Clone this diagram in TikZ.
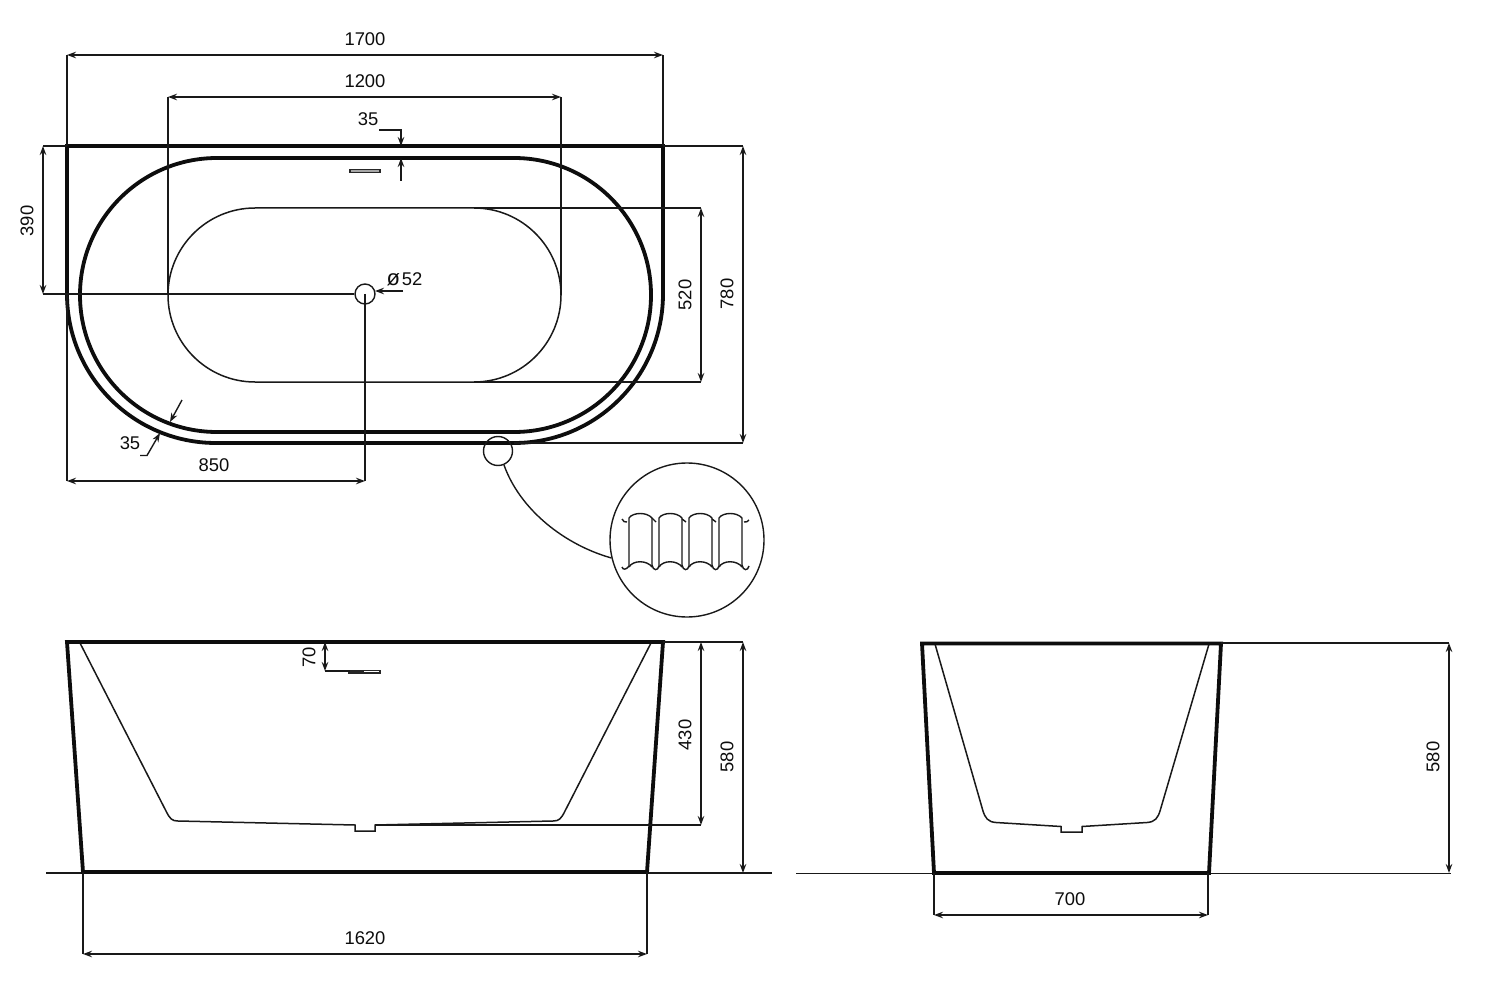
\documentclass[tikz,border=0pt]{standalone}
\usepackage{fontspec}
\setmainfont{Liberation Sans}
\usetikzlibrary{arrows.meta}
\tikzset{
  thin line/.style={line width=1.4pt,black!90},
  thick line/.style={line width=3.8pt,black!95,line join=miter},
  mid line/.style={line width=1.5pt,black!90},
  dim/.style={thin line,{Stealth[length=9pt,width=6.5pt]}-{Stealth[length=9pt,width=6.5pt]}},
  arr/.style={thin line,-{Stealth[length=9pt,width=6.5pt]}},
  lbl/.style={font=\fontsize{18.4}{18.4}\selectfont,inner sep=0pt,text=black!95},
  vlbl/.style={lbl,rotate=90},
  detail/.style={line width=1.4pt,black!90},
}
\begin{document}
\begin{tikzpicture}[x=1pt,y=-1pt]
\useasboundingbox (0,0) rectangle (1496,1000);
\fill[white] (0,0) rectangle (1496,1000);

% ---------- named points
\coordinate (wTL) at (67,146);   \coordinate (wTR) at (663,146);
\coordinate (d17L) at (67,55);   \coordinate (d17R) at (663,55);
\coordinate (d12L) at (168,97);  \coordinate (d12R) at (561,97);
\coordinate (bL) at (168,295);   \coordinate (bR) at (561,295);
\coordinate (d39T) at (43,146);  \coordinate (d39B) at (43,294);
\coordinate (d52T) at (701,208); \coordinate (d52B) at (701,382);
\coordinate (bTE) at (474,208);  \coordinate (bBE) at (474,382);
\coordinate (d78T) at (743,146); \coordinate (d78B) at (743,443);
\coordinate (oBE) at (514,443);
\coordinate (d85L) at (67,481);  \coordinate (d85R) at (365,481);
\coordinate (sideL) at (67,294);

% ---------- top view: bath outlines
\draw[thick line] (wTL) -- (wTR) -- (663,294) arc[start angle=0,end angle=90,radius=149]
  -- (216,443) arc[start angle=90,end angle=180,radius=149] -- cycle;
\draw[thick line] (217,158) -- (514,158) arc[start angle=-90,end angle=90,radius=137]
  -- (217,432) arc[start angle=90,end angle=270,radius=137] -- cycle;
\draw[mid line] (255,208) -- (474,208) arc[start angle=-90,end angle=90,radius=87]
  -- (255,382) arc[start angle=90,end angle=270,radius=87] -- cycle;
\node[draw,thin line,circle,minimum size=20pt,inner sep=0pt] (drain) at (365,294) {};
\draw[line width=1.3pt,black!85,fill=black!35] (350,169.5) rectangle (380,172.5);

% ---------- top view: dimensions
\draw[thin line] (wTL) -- (d17L);
\draw[thin line] (wTR) -- (d17R);
\draw[dim] (d17L) -- (d17R);
\node[lbl] (t1700) at (365,39) {1700};
\draw[thin line] (bL) -- (d12L);
\draw[thin line] (bR) -- (d12R);
\draw[dim] (d12L) -- (d12R);
\node[lbl] (t1200) at (365,81) {1200};

\node[lbl] (t35a) at (368,119) {35};
\coordinate (l35a) at (379,130); \coordinate (k35a) at (401,130);
\coordinate (tip35a) at (401,146); \coordinate (tail35b) at (401,181); \coordinate (tip35b) at (401,158);
\draw[arr] (l35a) -- (k35a) -- (tip35a);
\draw[arr] (tail35b) -- (tip35b);

\draw[thin line] (d39T) -- (wTL);
\draw[thin line] (d39B) -- (drain.west);
\draw[dim] (d39T) -- (d39B);
\node[vlbl] (t390) at (27,221) {390};

\node[lbl] (t52) at (404.5,279) {{\fontsize{22}{22}\selectfont ø}\kern2pt 52};
\coordinate (l52) at (403,291); \coordinate (h52) at (375,291);
\draw[arr] (l52) -- (h52);

\draw[thin line] (bTE) -- (d52T);
\draw[thin line] (bBE) -- (d52B);
\draw[dim] (d52T) -- (d52B);
\node[vlbl] (t520) at (685,295) {520};

\draw[thin line] (wTR) -- (d78T);
\draw[thin line] (oBE) -- (d78B);
\draw[dim] (d78T) -- (d78B);
\node[vlbl] (t780) at (727,294) {780};

\draw[thin line] (sideL) -- (d85L);
\draw[thin line] (drain.center) -- (d85R);
\draw[dim] (d85L) -- (d85R);
\node[lbl] (t850) at (214,465) {850};

\coordinate (t35c) at (182,400); \coordinate (h35c) at (170,422);
\draw[arr] (t35c) -- (h35c);
\coordinate (l35d) at (140,455.5); \coordinate (k35d) at (147,455.5); \coordinate (h35d) at (160,433);
\draw[arr] (l35d) -- (k35d) -- (h35d);
\node[lbl] (t35b) at (130,443) {35};

% ---------- detail callout
\node[draw,detail,circle,minimum size=29pt,inner sep=0pt] (small) at (498,451) {};
\node[draw,detail,circle,minimum size=154pt,inner sep=0pt] (big) at (687,540) {};
\draw[detail] (504,465) .. controls (520,510) and (565,545) .. (611.5,558);
\foreach \x in {0,30,60,90}{
  \draw[detail] (629+\x,566) -- (629+\x,518) .. controls (633+\x,512) and (647+\x,512) .. (652+\x,518) -- (652+\x,567);
  \draw[detail] (629+\x,567) .. controls (633+\x,560) and (647+\x,560) .. (652+\x,567);
}
\foreach \x in {0,30,60,90}{
  \draw[detail] (652+\x,565) .. controls (653+\x,571) and (658+\x,571) .. (659+\x,566);
}
\draw[detail] (652,518) -- (656,522); \draw[detail] (682,519) -- (686,522); \draw[detail] (712,519) -- (716,522);
\draw[detail] (622,519) .. controls (623,522) and (625,522) .. (627,522);
\draw[detail] (744,522) .. controls (746,522) and (748,522) .. (749,520);
\draw[detail] (622,567) .. controls (623,570) and (626,570) .. (629,566);

% ---------- front view
\draw[mid line] (80,643) -- (166,811) .. controls (170,819) and (172,821) .. (178,821)
  -- (355,825) -- (355,831) -- (375,831) -- (375,825) -- (553,821)
  .. controls (559,821) and (561,819) .. (565,811) -- (651,643);
\draw[thin line] (46,873) -- (772,873);
\draw[thick line] (67,642) -- (663,642) -- (647,872) -- (83,872) -- cycle;
\draw[line width=1.3pt,black!85] (349,670.5) rectangle (380,673);
\fill[black!85] (349,669.5) rectangle (364,674);

\coordinate (fT) at (325,642); \coordinate (fS) at (325,671); \coordinate (fSe) at (350,671);
\draw[dim] (fT) -- (fS);
\draw[thin line] (fS) -- (fSe);
\node[vlbl] (t70) at (309,657) {70};

\coordinate (fTR) at (663,642);
\coordinate (d43T) at (701,642); \coordinate (d43B) at (701,825); \coordinate (fBE) at (375,825);
\coordinate (d58T) at (743,642); \coordinate (d58B) at (743,873);
\draw[thin line] (fTR) -- (d58T);
\draw[thin line] (fBE) -- (d43B);
\draw[dim] (d43T) -- (d43B);
\node[vlbl] (t430) at (685,735) {430};
\draw[dim] (d58T) -- (d58B);
\node[vlbl] (t580a) at (727,757) {580};

\coordinate (fBL) at (83,872); \coordinate (fBR) at (647,872);
\coordinate (d16L) at (83,954); \coordinate (d16R) at (647,954);
\draw[thin line] (fBL) -- (d16L);
\draw[thin line] (fBR) -- (d16R);
\draw[dim] (d16L) -- (d16R);
\node[lbl] (t1620) at (365,938) {1620};

% ---------- side view
\draw[mid line] (935,644) -- (982.7,810) .. controls (985,818) and (988,822) .. (996,822.5)
  -- (1061,826.5) -- (1061,832) -- (1082,832) -- (1082,826.5) -- (1147,822.5)
  .. controls (1155,822) and (1158,818) .. (1160.3,810) -- (1209,644);
\draw[thin line] (796,873.5) -- (1451,873.5);
\draw[thick line] (922,643.5) -- (1221,643.5) -- (1209,873) -- (934,873) -- cycle;

\coordinate (sTR) at (1221,643); \coordinate (s58T) at (1449,643); \coordinate (s58B) at (1449,873);
\draw[thin line] (sTR) -- (s58T);
\draw[dim] (s58T) -- (s58B);
\node[vlbl] (t580b) at (1433,757) {580};

\coordinate (sBL) at (934,873); \coordinate (sBR) at (1208,873);
\coordinate (d70L) at (934,915); \coordinate (d70R) at (1208,915);
\draw[thin line] (sBL) -- (d70L);
\draw[thin line] (sBR) -- (d70R);
\draw[dim] (d70L) -- (d70R);
\node[lbl] (t700) at (1070,899) {700};
\end{tikzpicture}
\end{document}
